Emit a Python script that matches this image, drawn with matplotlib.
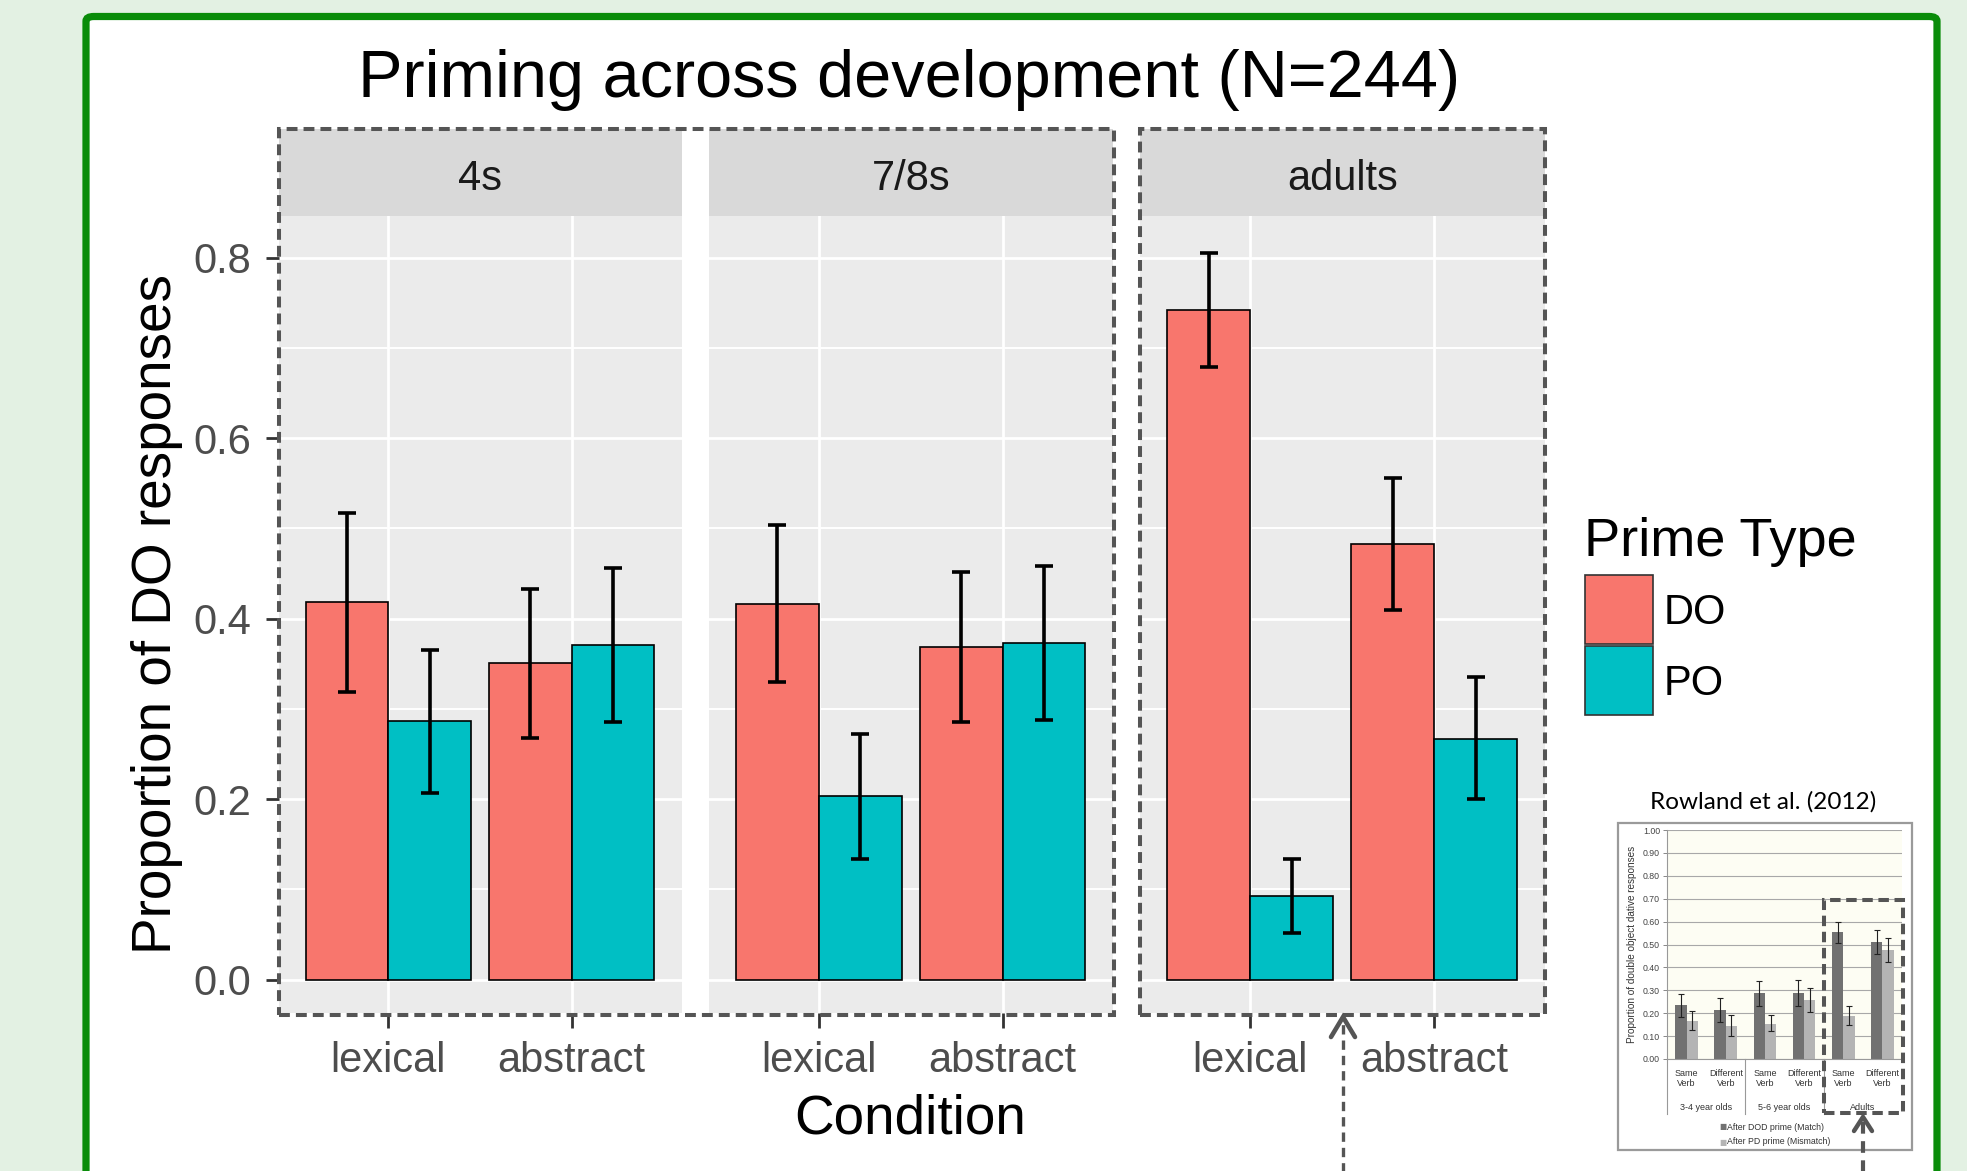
import numpy as np
import matplotlib
matplotlib.use('Agg')
import matplotlib.pyplot as plt
from matplotlib.patches import Rectangle, FancyBboxPatch
from matplotlib.lines import Line2D
from matplotlib.ticker import MultipleLocator

plt.rcParams['font.family'] = ['Liberation Sans', 'DejaVu Sans']

## data: main chart
groups = ['4s', '7/8s', 'adults']
conditions = ['lexical', 'abstract']
prime_types = ['DO', 'PO']

do_mean = [[0.418, 0.351], [0.416, 0.368], [0.742, 0.483]]
do_lo = [[0.319, 0.268], [0.330, 0.285], [0.679, 0.409]]
do_hi = [[0.517, 0.433], [0.504, 0.451], [0.805, 0.556]]
po_mean = [[0.286, 0.371], [0.203, 0.373], [0.093, 0.267]]
po_lo = [[0.207, 0.285], [0.134, 0.287], [0.052, 0.200]]
po_hi = [[0.365, 0.456], [0.272, 0.458], [0.134, 0.335]]

y_ticks = [0.0, 0.2, 0.4, 0.6, 0.8]

## data: inset (Rowland et al. 2012)
rowland_ages = ['3-4 year olds', '5-6 year olds', 'Adults']
rowland_verbs = ['Same\nVerb', 'Different\nVerb'] * 3
dod = [0.235, 0.213, 0.287, 0.288, 0.553, 0.512]
dod_lo = [0.185, 0.163, 0.233, 0.233, 0.507, 0.460]
dod_hi = [0.285, 0.265, 0.342, 0.345, 0.600, 0.565]
pd_ = [0.168, 0.145, 0.155, 0.258, 0.188, 0.477]
pd_lo = [0.127, 0.100, 0.121, 0.205, 0.147, 0.425]
pd_hi = [0.208, 0.190, 0.190, 0.312, 0.230, 0.530]
rowland_ticks = np.arange(0, 1.01, 0.1)

## colours
c_do = '#F8766D'
c_po = '#00BFC4'
c_dash = '#555555'

W, H = 1967, 1171
fig = plt.figure(figsize=(W / 100, H / 100), dpi=100)
fig.patch.set_facecolor('#e3f1e3')


def fx(x):
    return x / W


def fy(y):
    return 1 - y / H


def box(x0, y0, x1, y1):
    # pixel box (top-left origin) -> figure rect
    return [fx(x0), fy(y1), (x1 - x0) / W, (y1 - y0) / H]


# green frame with white inside
frame = FancyBboxPatch((fx(86), fy(1250)), fx(1937) - fx(86), fy(16.5) - fy(1250),
                       boxstyle='round,pad=0,rounding_size=0.004',
                       transform=fig.transFigure, facecolor='white',
                       edgecolor='#0a8c0a', lw=5.2, zorder=-5)
fig.add_artist(frame)

## main facets
panel_x = [(278.5, 681.5), (708.5, 1113), (1139.5, 1545)]
strip_top, panel_top, panel_bot = 129, 216, 1013
cats = np.arange(1, len(conditions) + 1)
bw = 0.45

for i, g in enumerate(groups):
    x0, x1 = panel_x[i]
    ax = fig.add_axes(box(x0, panel_top, x1, panel_bot))
    ax.set_facecolor('#EBEBEB')
    ax.set_axisbelow(True)
    for s in ax.spines.values():
        s.set_visible(False)

    ax.bar(cats - bw / 2, do_mean[i], width=bw, color=c_do, edgecolor='black', lw=1.2, zorder=2)
    ax.bar(cats + bw / 2, po_mean[i], width=bw, color=c_po, edgecolor='black', lw=1.2, zorder=2)
    for xs, m, lo, hi in [(cats - bw / 2, do_mean[i], do_lo[i], do_hi[i]),
                          (cats + bw / 2, po_mean[i], po_lo[i], po_hi[i])]:
        m = np.array(m)
        err = [m - np.array(lo), np.array(hi) - m]
        ax.errorbar(xs, m, yerr=err, fmt='none', ecolor='black', elinewidth=2.6,
                    capsize=6.5, capthick=2.6, zorder=3)

    ax.set_xlim(0.4, 2.6)
    ax.set_ylim(-0.0371, 0.846)
    ax.set_xticks(cats)
    ax.set_xticklabels(conditions)
    ax.set_yticks(y_ticks)
    ax.yaxis.set_minor_locator(MultipleLocator(0.1))
    ax.grid(which='major', axis='both', color='white', lw=2.0)
    ax.grid(which='minor', axis='y', color='white', lw=1.4)
    ax.tick_params(axis='x', length=11, width=2, color='#333333', labelsize=30,
                   labelcolor='#4d4d4d', pad=9)
    ax.tick_params(axis='y', which='minor', length=0)
    if i == 0:
        ax.set_yticklabels(['%.1f' % t for t in y_ticks])
        ax.tick_params(axis='y', length=9.5, width=2, color='#333333', labelsize=30,
                       labelcolor='#4d4d4d', pad=10)
    else:
        ax.tick_params(axis='y', length=0, labelleft=False)

    # facet strip
    st = fig.add_axes(box(x0, strip_top, x1, panel_top))
    st.set_facecolor('#D9D9D9')
    st.set_xticks([])
    st.set_yticks([])
    for s in st.spines.values():
        s.set_visible(False)
    fig.text(fx((x0 + x1) / 2), fy(190), g, ha='center', va='baseline', fontsize=30,
             color='#1a1a1a')

# titles
fig.text(fx(909), fy(97), 'Priming across development (N=244)', ha='center', va='baseline',
         fontsize=48, color='black')
fig.text(fx(157), fy(614), 'Proportion of DO responses', rotation=90, ha='center',
         va='center', fontsize=39.5, color='black')
fig.text(fx(910), fy(1134), 'Condition', ha='center', va='baseline', fontsize=39.5,
         color='black')

# legend
fig.text(fx(1584), fy(556), 'Prime Type', ha='left', va='baseline', fontsize=39,
         color='black')
key_y = [(575, 644), (646, 715)]
for (k0, k1), lab, col in zip(key_y, prime_types, [c_do, c_po]):
    fig.add_artist(Rectangle((fx(1585), fy(k1)), fx(1653) - fx(1585), fy(k0) - fy(k1),
                             transform=fig.transFigure, facecolor=col,
                             edgecolor='#333333', lw=1.2))
    fig.text(fx(1664), fy(k1 - 20), lab, ha='left', va='baseline', fontsize=30,
             color='black')

# dashed outlines around facets
for (x0, x1) in [(278.5, 1113.5), (1139.5, 1545)]:
    fig.add_artist(Rectangle((fx(x0), fy(1014.5)), fx(x1) - fx(x0), fy(129) - fy(1014.5),
                             transform=fig.transFigure, fill=False, edgecolor=c_dash,
                             lw=2.9, ls=(0, (2.7, 1.5)), zorder=5))


def up_arrow(x, tip, bottom, half, height, lw_line, lw_head):
    fig.add_artist(Line2D([fx(x), fx(x)], [fy(bottom), fy(tip + 4)], transform=fig.transFigure,
                          color=c_dash, lw=lw_line, ls=(0, (2.8, 1.8)), zorder=6))
    fig.add_artist(Line2D([fx(x - half), fx(x), fx(x + half)],
                          [fy(tip + height), fy(tip), fy(tip + height)],
                          transform=fig.transFigure, color=c_dash, lw=lw_head,
                          solid_capstyle='round', solid_joinstyle='miter', zorder=6))


up_arrow(1343, 1017, 1180, 12, 20, 2.4, 3.3)

## inset: Rowland et al. (2012)
fig.add_artist(Rectangle((fx(1618), fy(1150)), fx(1912) - fx(1618), fy(823) - fy(1150),
                         transform=fig.transFigure, facecolor='white', edgecolor='#9a9a9a',
                         lw=1.6, zorder=1))
fig.text(fx(1763), fy(802), 'Rowland et al. (2012)', ha='center', va='center',
         fontsize=17.5, color='black', family=['Lato', 'DejaVu Sans'])

ai = fig.add_axes(box(1667, 830, 1902, 1059))
ai.set_zorder(2)
ai.set_facecolor('#fdfdf3')
ai.set_axisbelow(True)
ix = np.arange(len(dod)) + 0.5
ibw = 0.29
ai.bar(ix - ibw / 2, dod, width=ibw, color='#717171', zorder=2)
ai.bar(ix + ibw / 2, pd_, width=ibw, color='#b4b4b4', zorder=2)
for xs, m, lo, hi in [(ix - ibw / 2, dod, dod_lo, dod_hi), (ix + ibw / 2, pd_, pd_lo, pd_hi)]:
    m = np.array(m)
    ai.errorbar(xs, m, yerr=[m - np.array(lo), np.array(hi) - m], fmt='none',
                ecolor='#222222', elinewidth=0.8, capsize=2.2, capthick=0.8, zorder=3)
ai.set_xlim(0, len(dod))
ai.set_ylim(0, 1)
ai.set_yticks(rowland_ticks)
ai.set_yticklabels(['%.2f' % t for t in rowland_ticks])
ai.yaxis.grid(True, color='#a8a8a8', lw=0.8)
ai.set_xticks(ix)
ai.set_xticklabels(rowland_verbs, fontsize=6.5, color='#333333', linespacing=1.15)
ai.tick_params(axis='x', length=0, pad=7)
ai.tick_params(axis='y', length=3, width=0.7, color='#888888', labelsize=6.3,
               labelcolor='#444444', pad=2)
for s in ['top', 'right']:
    ai.spines[s].set_visible(False)
ai.spines['left'].set_color('#999999')
ai.spines['bottom'].set_color('#999999')
ai.set_ylabel('Proportion of double object dative responses', fontsize=7.2, color='#333333',
              labelpad=4)
for k, age in enumerate(rowland_ages):
    ai.text(2 * k + 1, -0.21, age, ha='center', va='center', fontsize=6.5, color='#333333',
            transform=ai.transData, clip_on=False)
for k in range(3):
    ai.plot([2 * k, 2 * k], [0, -0.24], color='#999999', lw=0.8, clip_on=False)

fig.text(fx(1723), fy(1127), '\u25a0', ha='center', va='center', fontsize=5.5,
         color='#717171', family=['DejaVu Sans'], zorder=3)
fig.text(fx(1727), fy(1127), 'After DOD prime (Match)', ha='left', va='center', fontsize=6.3,
         color='#333333', zorder=3)
fig.text(fx(1723), fy(1142), '\u25a0', ha='center', va='center', fontsize=5.5,
         color='#b4b4b4', family=['DejaVu Sans'], zorder=3)
fig.text(fx(1727), fy(1142), 'After PD prime (Mismatch)', ha='left', va='center', fontsize=6.3,
         color='#333333', zorder=3)

fig.add_artist(Rectangle((fx(1824), fy(1113)), fx(1903) - fx(1824), fy(900) - fy(1113),
                         transform=fig.transFigure, fill=False, edgecolor=c_dash,
                         lw=2.9, ls=(0, (2.6, 1.4)), zorder=6))
up_arrow(1863, 1117, 1180, 9, 14, 3.0, 3.2)

fig.savefig('out.png', dpi=100, facecolor=fig.get_facecolor())
